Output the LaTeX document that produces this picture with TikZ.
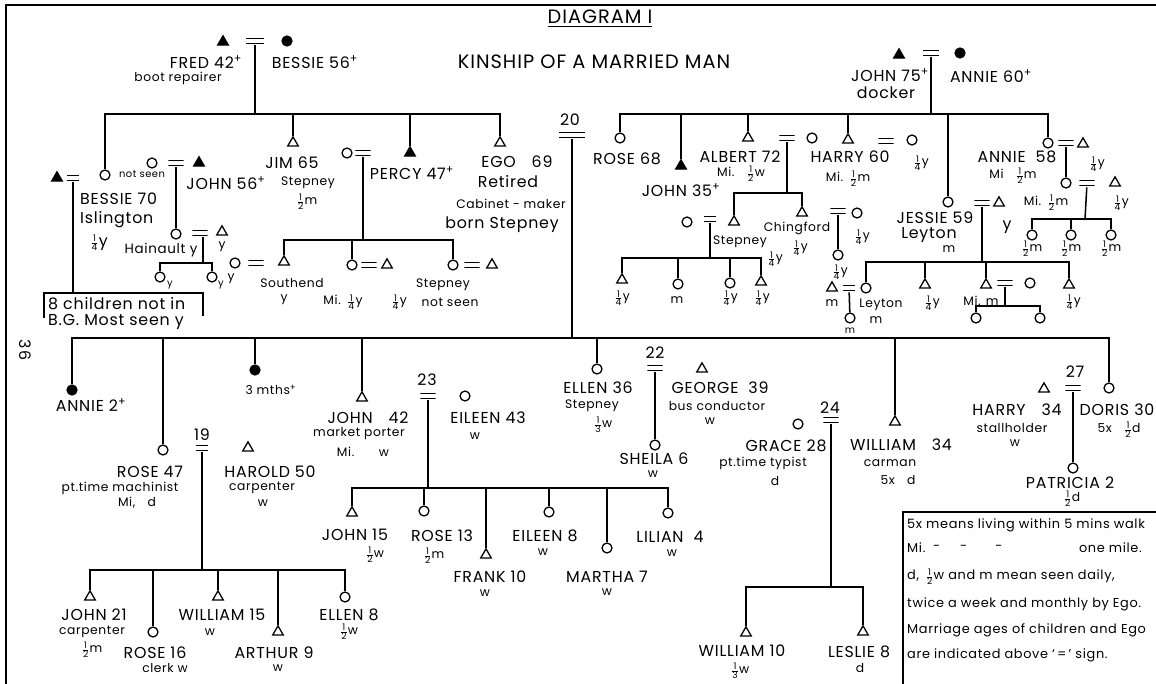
\documentclass[tikz,border=0pt]{standalone}
\usepackage{fontspec}
\usepackage{amsmath}
\setmainfont{Poppins}[LetterSpace=5]
\usetikzlibrary{shapes.geometric}
\newcommand\fr[2]{\ensuremath{\genfrac{}{}{0.5pt}{2}{\mbox{\fontsize{7.8}{8}\selectfont #1}}{\mbox{\fontsize{7.8}{8}\selectfont #2}}}}
\newcommand\dd{\textsuperscript{+}}
\newcommand\tlab[4][nm]{\node[#1] (#2) at (#3) {#4};}
\tikzset{
 nm/.style={font=\fontsize{13.5}{14}\selectfont, inner sep=0pt},
 sm/.style={font=\fontsize{10.5}{11}\selectfont, inner sep=0pt},
 xs/.style={font=\fontsize{8.5}{9}\selectfont, inner sep=0pt},
 ttl/.style={font=\fontsize{16.5}{17}\selectfont, inner sep=0pt},
 lg/.style={font=\fontsize{11}{12}\selectfont, inner sep=0pt, anchor=west},
 ma/.style={regular polygon, regular polygon sides=3, draw, line width=1.1pt, inner sep=0pt, minimum size=10.5pt},
 maD/.style={ma, fill=black},
 fe/.style={circle, draw, line width=1.1pt, inner sep=0pt, minimum size=8.5pt},
 feD/.style={fe, fill=black},
 eq/.style={rectangle, inner sep=0pt, minimum height=7pt, minimum width=#1,
   path picture={\draw[line width=1.3pt] ([yshift=2pt]path picture bounding box.west) -- ([yshift=2pt]path picture bounding box.east)
     ([yshift=-2pt]path picture bounding box.west) -- ([yshift=-2pt]path picture bounding box.east);}},
 eq/.default=13pt,
 ln/.style={line width=1.3pt},
}
\begin{document}
\begin{tikzpicture}[x=0.03cm,y=-0.03cm]
\useasboundingbox (0,0) rectangle (1156,684);
% frame
\coordinate (fr1) at (6,684); \coordinate (fr2) at (6,5); \coordinate (fr3) at (1156,5);
\draw[line width=2.4pt] (fr1) -- (fr2) -- (fr3);
\node[nm, rotate=-90] (pg) at (25,350) {36};
% titles
\tlab[ttl]{tA}{600,19}{\underline{DIAGRAM I}}
\tlab[ttl]{tB}{594,62}{KINSHIP OF A MARRIED MAN}

% ===== Fred = Bessie =====
\node[maD] (fred) at (223,42) {};
\node[eq=15pt] (e1) at (255,41) {};
\node[feD] (bessP) at (287,41) {};
\tlab{tFred}{206,62}{FRED 42\dd}
\tlab[sm]{tFredo}{178,78}{boot repairer}
\tlab{tBes}{315,62}{BESSIE 56\dd}
\coordinate (j1) at (255,114);
\node[fe] (bes70) at (105,175) {};
\node[ma] (jim) at (293,143) {};
\node[maD] (percy) at (410,153) {};
\node[ma] (ego) at (500,143) {};
\draw[ln] (e1) -- (j1);
\draw[ln] (j1) -| (bes70); \draw[ln] (j1) -| (jim); \draw[ln] (j1) -| (percy); \draw[ln] (j1) -| (ego);

% Bessie 70
\node[maD] (hbes) at (57,178) {};
\node[eq=10pt] (e2) at (73,178) {};
\coordinate (bxL) at (44,318); \coordinate (bxTL) at (44,293); \coordinate (bxTR) at (203,293); \coordinate (bxR) at (203,316);
\coordinate (bxJ) at (73,293);
\draw[ln] (bxL) -- (bxTL) -- (bxTR) -- (bxR);
\draw[ln] (e2) -- (bxJ);
\tlab[xs]{tNs}{142,174}{not seen}
\tlab[nm,anchor=west]{tB70}{80,199}{BESSIE 70}
\tlab[nm,anchor=west]{tIsl}{80,220}{Islington}
\tlab{tB70f}{99,243}{\fr14y}
\tlab[nm,anchor=west]{tBox1}{48,304}{8 children not in}
\tlab[nm,anchor=west]{tBox2}{48,322}{B.G. Most seen y}

% John 56
\node[fe] (w56) at (152,163) {};
\node[eq] (e3) at (176,163) {};
\node[maD] (john56) at (199,163) {};
\tlab{tJ56}{226,183}{JOHN 56\dd}
\node[fe] (hai) at (176,234) {};
\node[eq] (e4) at (200,233) {};
\node[ma] (haih) at (222,232) {};
\draw[ln] (e3) -- (hai);
\tlab[nm,font=\fontsize{11.5}{12}\selectfont]{tHai}{161,250}{Hainault y}
\tlab[sm]{tHy}{222,247}{y}
\coordinate (j4) at (203,263);
\node[fe] (c1) at (160,277) {};
\node[fe] (c2) at (212,277) {};
\draw[ln] (e4.south -| j4) -- (j4);
\draw[ln] (j4) -| (c1); \draw[ln] (j4) -| (c2);
\tlab[xs]{tc1y}{170,285}{y}
\tlab[xs]{tc2y}{221,285}{y}
\tlab[sm]{tc2y2}{231,279}{y}

% Jim
\tlab{tJim}{292,163}{JIM 65}
\tlab[sm]{tJimS}{308,183}{Stepney}
\tlab[sm]{tJimF}{307,202}{\fr12m}

% Percy
\node[fe] (pw) at (347,153) {};
\node[eq] (e5) at (363,153) {};
\tlab{tPercy}{412,173}{PERCY 47\dd}
\coordinate (j5) at (363,240);
\draw[ln] (e5) -- (j5);
\node[ma] (ps) at (284,262) {};
\node[fe] (psw) at (235,263) {};
\node[eq] (e6) at (256,263) {};
\node[fe] (pd1) at (352,265) {};
\node[eq] (e7) at (369,265) {};
\node[ma] (pd1h) at (387,265) {};
\node[fe] (pd2) at (453,265) {};
\node[eq] (e8) at (472,265) {};
\node[ma] (pd2h) at (492,265) {};
\draw[ln] (j5) -| (ps); \draw[ln] (j5) -| (pd1); \draw[ln] (j5) -| (pd2);
\tlab[sm]{tSouth}{292,283}{Southend}
\tlab[sm]{tSy}{284,300}{y}
\tlab[sm]{tMi1}{343,302}{Mi.\enspace\fr14y}
\tlab[sm]{tq1}{399,302}{\fr14y}
\tlab[sm]{tStep2}{443,285}{Stepney}
\tlab[sm]{tNs2}{450,302}{not seen}

% Ego
\tlab{tEgo}{517,162}{EGO\quad 69}
\tlab{tEgo2}{508,182}{Retired}
\tlab[sm]{tEgo3}{511,204}{Cabinet - maker}
\tlab{tEgo4}{502,225}{born Stepney}
\node[eq=22pt] (e20) at (572,135) {};
\tlab{t20}{570,120}{20}
\coordinate (j20) at (572,338);
\draw[ln] (e20) -- (j20);

% ===== Ego's children =====
\node[feD] (annie2) at (72,390) {};
\node[fe] (rose47) at (163,450) {};
\node[feD] (mths) at (255,370) {};
\node[ma] (john42) at (362,398) {};
\node[fe] (ellen36) at (597,369) {};
\node[ma] (will34) at (895,422) {};
\node[fe] (doris) at (1109,388) {};
\foreach \c in {annie2,rose47,mths,john42,ellen36,will34,doris} {\draw[ln] (j20) -| (\c);}
\tlab{tAnnie2}{91,405}{ANNIE\ 2\dd}
\tlab[sm]{t3m}{271,390}{3 mths\dd}

% Rose 47 = Harold
\node[eq=11pt] (e19) at (202,448) {};
\node[ma] (harold) at (248,448) {};
\tlab{t19}{202,435}{19}
\tlab{tRose47}{150,472}{ROSE\ 47}
\tlab[sm]{tRose47o}{120,488}{pt.time machinist}
\tlab[sm]{tRose47f}{137,503}{Mi,\quad d}
\tlab{tHar}{270,472}{HAROLD 50}
\tlab[sm]{tHaro}{262,488}{carpenter}
\tlab[sm]{tHarf}{263,503}{w}
\coordinate (j19) at (202,570);
\draw[ln] (e19) -- (j19);
\node[ma] (john21) at (90,597) {};
\node[fe] (rose16) at (153,632) {};
\node[ma] (will15) at (218,597) {};
\node[ma] (arthur) at (278,632) {};
\node[fe] (ellen8) at (345,597) {};
\foreach \c in {john21,rose16,will15,arthur,ellen8} {\draw[ln] (j19) -| (\c);}
\tlab{tJ21}{94,615}{JOHN\ 21}
\tlab[sm]{tJ21o}{92,632}{carpenter}
\tlab[sm]{tJ21f}{92,650}{\fr12m}
\tlab{tR16}{155,653}{ROSE 16}
\tlab[sm]{tR16o}{165,668}{clerk w}
\tlab{tW15}{222,615}{WILLIAM 15}
\tlab[sm]{tW15f}{210,632}{w}
\tlab{tA9}{274,653}{ARTHUR 9}
\tlab[sm]{tA9f}{278,668}{w}
\tlab{tE8}{349,615}{ELLEN 8}
\tlab[sm]{tE8f}{349,632}{\fr12w}

% John 42 = Eileen 43
\node[eq] (e23) at (428,396) {};
\node[fe] (eileen43) at (465,396) {};
\tlab{t23}{427,380}{23}
\tlab{tJ42}{368,418}{JOHN\quad 42}
\tlab[sm]{tJ42o}{359,434}{market porter}
\tlab[sm]{tJ42f}{363,452}{Mi.\qquad w}
\tlab{tE43}{488,418}{EILEEN 43}
\tlab[sm]{tE43f}{475,436}{w}
\coordinate (j23) at (428,488);
\draw[ln] (e23) -- (j23);
\node[ma] (john15) at (352,513) {};
\node[fe] (rose13) at (424,511) {};
\node[ma] (frank) at (486,555) {};
\node[fe] (eileen8) at (549,512) {};
\node[fe] (martha) at (607,548) {};
\node[fe] (lilian) at (668,513) {};
\foreach \c in {john15,rose13,frank,eileen8,martha,lilian} {\draw[ln] (j23) -| (\c);}
\tlab{tJ15}{355,535}{JOHN 15}
\tlab[sm]{tJ15f}{375,555}{\fr12w}
\tlab{tR13}{442,536}{ROSE 13}
\tlab[sm]{tR13f}{434,556}{\fr12m}
\tlab{tF10}{490,577}{FRANK\ 10}
\tlab[sm]{tF10f}{485,593}{w}
\tlab{tE8b}{545,536}{EILEEN\ 8}
\tlab[sm]{tE8bf}{543,552}{w}
\tlab{tM7}{607,577}{MARTHA\ 7}
\tlab[sm]{tM7f}{607,592}{w}
\tlab{tL4}{670,537}{LILIAN\ \ 4}
\tlab[sm]{tL4f}{672,553}{w}

% Ellen 36 = George
\node[eq] (e22) at (655,368) {};
\node[ma] (george) at (702,369) {};
\node[fe] (sheila) at (655,445) {};
\draw[ln] (e22) -- (sheila);
\tlab{t22}{655,353}{22}
\tlab{tEl36}{598,388}{ELLEN\ 36}
\tlab[sm]{tEl36a}{592,406}{Stepney}
\tlab[sm]{tEl36b}{603,425}{\fr13w}
\tlab{tGeo}{720,388}{GEORGE\ \ 39}
\tlab[sm]{tGeoo}{717,406}{bus conductor}
\tlab[sm]{tGeof}{710,421}{w}
\tlab{tShe}{654,459}{SHEILA\ 6}
\tlab[sm]{tShef}{653,474}{w}

% Grace = William 34
\node[fe] (grace) at (798,424) {};
\node[eq] (e24) at (831,420) {};
\tlab{t24}{830,408}{24}
\coordinate (j24) at (831,587);
\draw[ln] (e24) -- (j24);
\node[ma] (will10) at (746,633) {};
\node[ma] (leslie) at (863,632) {};
\draw[ln] (j24) -| (will10); \draw[ln] (j24) -| (leslie);
\tlab{tGr}{786,446}{GRACE 28}
\tlab[sm]{tGro}{763,463}{pt.time typist}
\tlab[sm]{tGrf}{775,481}{d}
\tlab{tW34}{901,445}{WILLIAM\quad 34}
\tlab[sm]{tW34o}{890,463}{carman}
\tlab[sm]{tW34f}{898,480}{5x\quad d}
\tlab{tW10}{742,651}{WILLIAM\ 10}
\tlab[sm]{tW10f}{740,671}{\fr13w}
\tlab{tLes}{859,652}{LESLIE\ 8}
\tlab[sm]{tLesf}{860,668}{d}

% Harry 34 = Doris
\node[ma] (harry34) at (1044,389) {};
\node[eq] (e27) at (1073,388) {};
\node[fe] (patricia) at (1073,468) {};
\draw[ln] (e27) -- (patricia);
\tlab{t27}{1075,372}{27}
\tlab{tH34}{1017,410}{HARRY\quad 34}
\tlab[sm]{tH34o}{1012,428}{stallholder}
\tlab[sm]{tH34f}{1015,443}{w}
\tlab{tDor}{1117,410}{DORIS 30}
\tlab[sm]{tDorf}{1119,430}{5x\quad\fr12d}
\tlab{tPat}{1070,483}{PATRICIA 2}
\tlab[sm]{tPatf}{1072,499}{\fr12d}

% legend
\coordinate (lg1) at (903,684); \coordinate (lg2) at (903,512); \coordinate (lg3) at (1156,512);
\draw[ln] (lg1) -- (lg2) -- (lg3);
\tlab[lg]{L1}{907,525}{5x means living within 5 mins walk}
\tlab[lg]{L2a}{907,548}{Mi.}
\tlab[lg]{L2b}{933,548}{-}
\tlab[lg]{L2c}{960,548}{-}
\tlab[lg]{L2d}{995,548}{-}
\tlab[lg,anchor=east]{L2e}{1142,548}{one mile.}
\tlab[lg]{L3}{907,577}{d,\enspace\fr12w and m mean seen daily,}
\tlab[lg]{L4}{907,604}{twice a week and monthly by Ego.}
\tlab[lg]{L5}{907,630}{Marriage ages of children and Ego}
\tlab[lg]{L6}{907,655}{are indicated above `\,=\,' sign.}

% ===== John 75 = Annie 60 =====
\node[maD] (john75) at (899,55) {};
\node[eq=14pt] (e75) at (931,53) {};
\node[feD] (annie60) at (960,53) {};
\tlab{tJ75}{890,75}{JOHN 75\dd}
\tlab{tJ75o}{886,93}{docker}
\tlab{tA60}{991,76}{ANNIE\ 60\dd}
\coordinate (j75) at (931,114);
\draw[ln] (e75) -- (j75);
\node[fe] (rose68) at (620,138) {};
\node[maD] (john35) at (681,166) {};
\node[ma] (albert) at (748,138) {};
\node[ma] (harry60) at (848,140) {};
\node[fe] (jessie) at (948,202) {};
\node[fe] (annie58) at (1048,143) {};
\foreach \c in {rose68,john35,albert,harry60,jessie,annie58} {\draw[ln] (j75) -| (\c);}
\tlab{tR68}{627,159}{ROSE\ 68}
\tlab{tJ35}{681,190}{JOHN\ 35\dd}

% Albert
\node[eq] (e72) at (787,138) {};
\node[fe] (aw) at (812,138) {};
\tlab{tAl}{740,157}{ALBERT 72}
\tlab[sm]{tAlf}{741,174}{Mi.\quad\fr12w}
\coordinate (j72) at (787,193);
\draw[ln] (e72) -- (j72);
\node[ma] (a1) at (734,222) {};
\node[ma] (a2) at (802,213) {};
\draw[ln] (j72) -| (a1); \draw[ln] (j72) -| (a2);
\node[fe] (a1w) at (687,222) {};
\node[eq=10pt] (e72b) at (710,219) {};
\coordinate (j72b) at (710,258);
\draw[ln] (e72b) -- (j72b);
\node[ma] (g1) at (622,280) {};
\node[fe] (g2) at (678,284) {};
\node[fe] (g3) at (730,283) {};
\node[ma] (g4) at (761,282) {};
\foreach \c in {g1,g2,g3,g4} {\draw[ln] (j72b) -| (\c);}
\tlab[sm]{tStep3}{740,242}{Stepney}
\tlab[sm]{tq3}{775,259}{\fr14y}
\tlab[sm]{tg1}{622,298}{\fr14y}
\tlab[sm]{tg2}{677,300}{m}
\tlab[sm]{tg3}{730,298}{\fr14y}
\tlab[sm]{tg4}{762,298}{\fr14y}
\tlab[sm]{tChing}{797,228}{Chingford}
\tlab[sm]{tq4}{800,248}{\fr14y}
\node[eq] (e72c) at (838,211) {};
\node[fe] (a2w) at (857,213) {};
\tlab[sm]{tq5}{862,237}{\fr14y}
\node[fe] (a2d) at (838,255) {};
\draw[ln] (e72c) -- (a2d);
\tlab[sm]{tq6}{840,272}{\fr14y}

% Harry 60
\node[eq] (e60) at (886,141) {};
\node[fe] (h60w) at (912,140) {};
\tlab{tH60}{850,157}{HARRY 60}
\tlab[sm]{tH60f}{848,179}{Mi.\enspace\fr12m}
\tlab[sm]{tH60w}{921,163}{\fr14y}

% Jessie
\node[eq] (e59) at (982,203) {};
\node[ma] (jh) at (999,203) {};
\tlab{tJes}{935,218}{JESSIE 59}
\tlab{tJesL}{929,235}{Leyton}
\tlab[sm]{tJesm}{949,249}{m}
\tlab{tJesy}{1007,227}{y}
\coordinate (j59) at (982,262);
\draw[ln] (e59) -- (j59);
\node[fe] (jd1) at (866,288) {};
\node[ma] (jd2) at (925,285) {};
\node[ma] (jd3) at (986,285) {};
\node[ma] (jd4) at (1069,285) {};
\foreach \c in {jd1,jd2,jd3,jd4} {\draw[ln] (j59) -| (\c);}
\node[ma] (jd1h) at (832,288) {};
\node[eq=10pt] (ej1) at (849,288) {};
\node[fe] (jd1c) at (850,318) {};
\draw[ln] (ej1) -- (jd1c);
\tlab[sm]{tjm1}{832,303}{m}
\tlab[sm]{tLey2}{881,305}{Leyton}
\tlab[sm]{tLey2m}{876,320}{m}
\tlab[xs]{tjm2}{850,331}{m}
\tlab[sm]{tjd2}{932,303}{\fr14y}
\node[eq] (ej3) at (1005,283) {};
\node[fe] (jd3w) at (1030,283) {};
\tlab[sm]{tjd3}{981,301}{Mi. m}
\coordinate (jj3) at (1005,306);
\draw[ln] (ej3) -- (jj3);
\node[fe] (k1) at (976,318) {};
\node[fe] (k2) at (1040,318) {};
\draw[ln] (jj3) -| (k1); \draw[ln] (jj3) -| (k2);
\tlab[sm]{tjd4}{1073,302}{\fr14y}

% Annie 58
\node[eq] (e58) at (1066,143) {};
\node[ma] (a58h) at (1083,144) {};
\tlab{tA58}{1017,157}{ANNIE\ \ 58}
\tlab[sm]{tA58f}{1013,176}{Mi\quad\fr12m}
\tlab[sm]{tA58h}{1097,164}{\fr14y}
\node[fe] (a58d) at (1066,183) {};
\draw[ln] (e58) -- (a58d);
\node[eq] (e58b) at (1087,183) {};
\node[ma] (a58dh) at (1115,183) {};
\tlab[sm]{tA58d}{1046,203}{Mi.\enspace\fr12m}
\tlab[sm]{tA58dh}{1121,203}{\fr14y}
\coordinate (j58b) at (1085,219);
\draw[ln] (e58b) -- (j58b);
\node[fe] (m1) at (1032,235) {};
\node[fe] (m2) at (1071,235) {};
\node[fe] (m3) at (1111,235) {};
\foreach \c in {m1,m2,m3} {\draw[ln] (j58b) -| (\c);}
\tlab[sm]{tm1}{1032,249}{\fr12m}
\tlab[sm]{tm2}{1071,249}{\fr12m}
\tlab[sm]{tm3}{1111,249}{\fr12m}
\end{tikzpicture}
\end{document}
